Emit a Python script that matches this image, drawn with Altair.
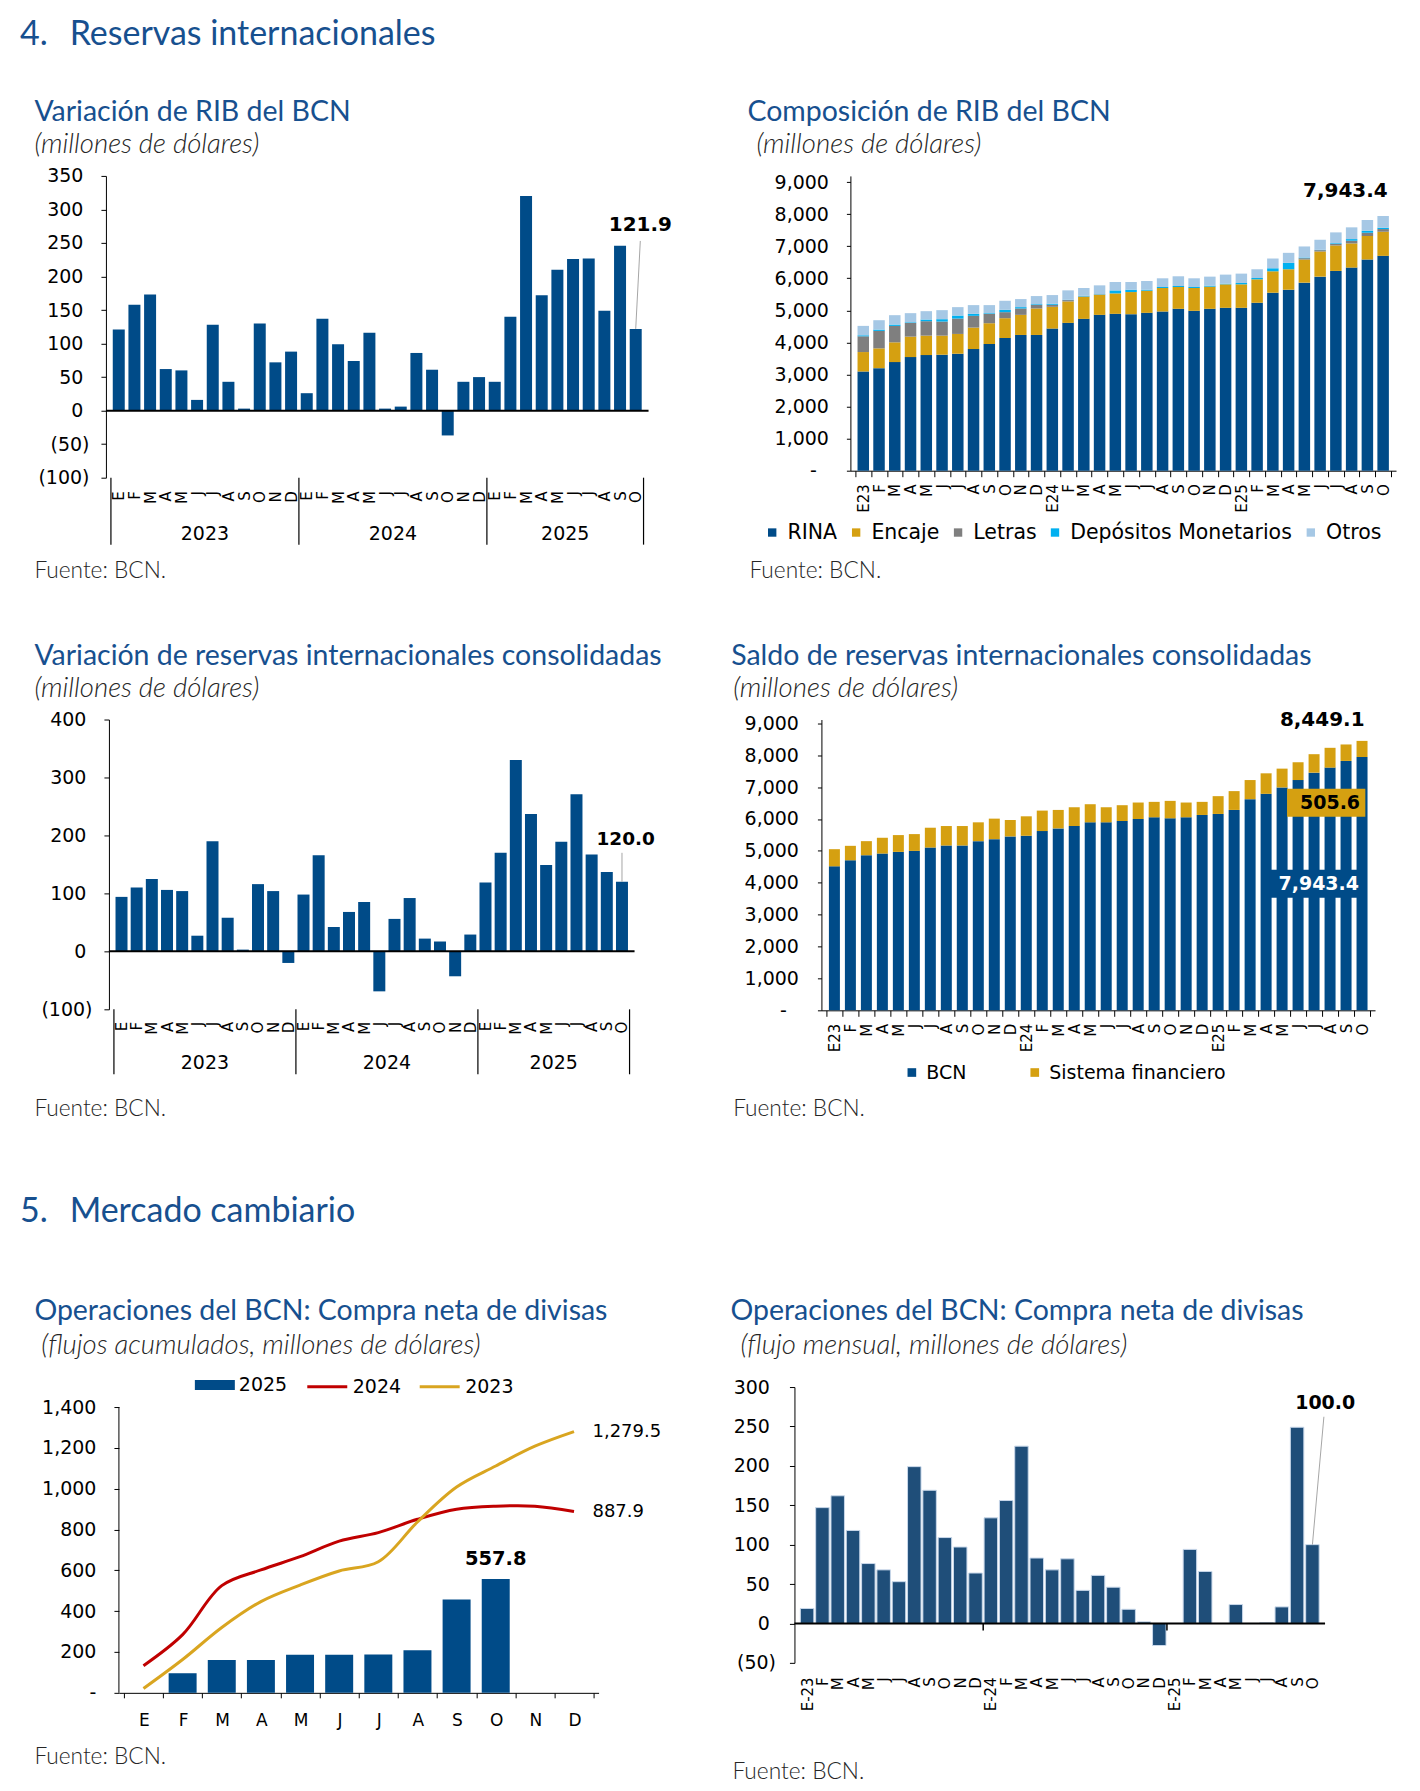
import json
import altair as alt
import pandas as pd

# ---------------- data ----------------
MES = ["E", "F", "M", "A", "M", "J", "J", "A", "S", "O", "N", "D"]
ANIOS = ["2023", "2024", "2025"]
MESES_POR_ANIO = [12, 12, 10]

etq_simple = MES + MES + MES[:10]
etq_rib = ["E23"] + MES[1:] + ["E24"] + MES[1:] + ["E25"] + MES[1:10]
etq_flujo = ["E-23"] + MES[1:] + ["E-24"] + MES[1:] + ["E-25"] + MES[1:10]

var_rib = [121, 158, 173, 62, 60, 16, 128, 43, 3, 130, 72, 88,
           26, 137, 99, 74, 116, 3, 6, 86, 61, -37, 43, 50,
           43, 140, 320, 172, 210, 226, 227, 149, 246, 121.9]

rina = [3094, 3198, 3387, 3543, 3606, 3617, 3648, 3794, 3951, 4139, 4233, 4233,
        4432, 4610, 4735, 4860, 4892, 4881, 4923, 4965, 5049, 4986, 5049, 5080,
        5080, 5237, 5550, 5644, 5864, 6052, 6230, 6334, 6585, 6700]
encaje = [606, 617, 616, 638, 606, 595, 617, 669, 648, 617, 627, 826,
          679, 669, 690, 628, 637, 690, 690, 732, 679, 711, 690, 732,
          732, 731, 669, 638, 721, 784, 794, 753, 732, 752]
letras = [491, 544, 512, 429, 450, 439, 480, 366, 293, 188, 199, 115,
          63, 41, 10, 10, 0, 0, 0, 0, 0, 0, 0, 0,
          0, 0, 0, 0, 42, 42, 52, 84, 105, 84]
depositos = [32, 41, 42, 20, 52, 74, 93, 63, 21, 73, 42, 21,
             31, 11, 21, 10, 93, 73, 31, 31, 31, 31, 31, 21,
             41, 42, 94, 199, 21, 10, 21, 52, 62, 42]
otros = [293, 293, 293, 283, 261, 282, 263, 272, 251, 282, 251, 251,
         272, 293, 241, 272, 263, 241, 272, 272, 304, 272, 282, 282,
         293, 272, 304, 313, 345, 314, 335, 366, 335, 365.4]

var_consol = [94, 110, 125, 106, 104, 27, 190, 58, 3, 116, 104, -20,
              98, 166, 42, 68, 85, -69, 56, 92, 22, 17, -43, 29,
              119, 170, 330, 237, 149, 189, 271, 167, 137, 120.0]

saldo_bcn = [4516, 4705, 4863, 4916, 4968, 5000, 5105, 5168, 5168, 5305, 5368, 5453,
             5474, 5621, 5705, 5779, 5895, 5895, 5937, 6000, 6053, 6021, 6053, 6126,
             6158, 6284, 6621, 6789, 6989, 7221, 7453, 7611, 7821, 7943.4]
saldo_sf = [537, 453, 442, 495, 527, 526, 621, 611, 611, 590, 643, 515,
            610, 642, 579, 589, 568, 473, 495, 516, 484, 547, 463, 411,
            558, 590, 600, 643, 590, 558, 579, 621, 516, 505.6]

acum_2025 = [0, 96, 161, 161, 187, 187, 188, 208, 457, 557.8]
acum_2024 = [133, 285, 525, 602, 667, 743, 785, 850, 899, 914, 914, 887.9]
acum_2023 = [21, 163, 320, 447, 528, 597, 642, 837, 1008, 1111, 1208, 1279.5]

flujo_mensual = [19, 147, 162, 118, 76, 68, 53, 199, 169, 109, 97, 64,
                 134, 156, 225, 83, 68, 82, 42, 61, 46, 18, 2, -28,
                 0, 94, 66, 0, 24, 0, 1, 21, 249, 100.0]

# ---------------- style ----------------
TF = "Lato"
AF = "DejaVu Sans"
AZUL_T = "#17508F"
AZUL = "#004B88"
ORO = "#D5A011"
GRIS = "#7F7F7F"
CIAN = "#00B0F0"
CELESTE = "#A6C8E5"
ROJO = "#C00000"
ORO_L = "#D9A520"
AZUL6 = "#1F4E79"
GUIA = "#A6A6A6"
SUBC = "#262626"

SZ_SEC = 34
SZ_TIT = 28.5
SZ_SUB = 27.6
SZ_FTE = 22.7

NBSP = "\u00a0"
FIG = "\u2007"
ZW = "\u200b"   # keeps trailing padding from being trimmed
PAD = NBSP + ZW
FMT_PAREN = ("datum.value < 0 ? '(' + format(-datum.value, ',') + ')' : format(datum.value, ',') + '"
             + PAD + "'")
FMT_DASH2 = "datum.value == 0 ? '-" + FIG + NBSP + ZW + "' : format(datum.value, ',') + '" + PAD + "'"
FMT_DASH5 = "datum.value == 0 ? '-" + PAD + "' : format(datum.value, ',') + '" + PAD + "'"


def js_list(lst):
    return json.dumps(lst, ensure_ascii=False)


def texto(s, x, y, size, color="black", font=TF, weight="normal", style="normal", align="left"):
    return alt.Chart(pd.DataFrame({"t": [s]})).mark_text(
        font=font, fontSize=size, color=color, fontWeight=weight, fontStyle=style,
        align=align, baseline="middle"
    ).encode(x=alt.value(x), y=alt.value(y), text="t:N")


def encabezado(title, sub, tx, ty, sx, sy, fx, fy):
    return [texto(title, tx, ty + 2, SZ_TIT, AZUL_T),
            texto(sub, sx, sy + 1, SZ_SUB, SUBC, style="italic", weight=300),
            texto("Fuente: BCN.", fx, fy, SZ_FTE, SUBC, weight=300)]


def eje_y(values, fmt, tick, pad, domain=True):
    return alt.Axis(values=values, tickCount=500, labelExpr=fmt, tickSize=tick, labelPadding=pad,
                    title=None, grid=False, domain=domain, labelOverlap=False, labelBound=False,
                    labelFlush=False)


def eje_x_centros(etqs, pad, size=15):
    return alt.Axis(values=list(range(len(etqs))), tickCount=500,
                    labelExpr=js_list(etqs) + "[round(datum.value)]",
                    labelAngle=270, ticks=False, domain=False, labelPadding=pad,
                    labelFontSize=size, labelOverlap=False, labelFlush=False,
                    labelBound=False, orient="bottom", title=None, grid=False)


def eje_x_bordes(etqs, step, pad, angle=270, size=15, tick=6):
    n = len(etqs)
    return alt.Axis(values=[i - 0.5 for i in range(n + 1)], tickCount=500,
                    labelExpr=js_list(etqs + [""]) + "[round(datum.value + 0.5)]",
                    labelAngle=angle, labelOffset=step / 2, ticks=True, tickSize=tick,
                    domain=True, labelPadding=pad, labelFontSize=size,
                    labelOverlap=False, labelFlush=False, labelBound=False,
                    orient="bottom", title=None, grid=False)


def cortes_anio():
    c = [-0.5]
    acc = 0
    for m in MESES_POR_ANIO:
        acc += m
        c.append(acc - 0.5)
    return c


def spacer(w=1, h=1):
    return alt.Chart(pd.DataFrame({"s": [0]})).mark_point(opacity=0).encode(
        x=alt.value(0), y=alt.value(0)).properties(width=w, height=h)


def indep(c):
    return c.resolve_scale(color="independent", fill="independent", stroke="independent").resolve_legend(
        color="independent", fill="independent", stroke="independent")


# ---------- variation panels (1 and 3) ----------
def panel_var(vals, W, H, ymin, ymax, ystep, bw, mpad, year_dy, sep_len, ann, heads, ann_size=20):
    n = len(vals)
    df = pd.DataFrame({"i": list(range(n)), "v": vals})
    xs = alt.Scale(domain=[-0.5, n - 0.5], nice=False, zero=False)
    ys = alt.Scale(domain=[ymin, ymax], nice=False, zero=False)
    X = alt.X("i:Q", scale=xs, axis=eje_x_centros(etq_simple, mpad), title=None)
    Y = alt.Y("v:Q", scale=ys, title=None,
              axis=eje_y(list(range(ymin, ymax + 1, ystep)), FMT_PAREN, 5, 12))
    barras = alt.Chart(df).mark_bar(size=bw, color=AZUL).encode(x=X, y=Y, y2=alt.datum(0))
    cero = alt.Chart(pd.DataFrame({"z": [0]})).mark_rule(color="black", strokeWidth=2).encode(
        y=alt.Y("z:Q", title=None))
    c = cortes_anio()
    seps = alt.Chart(pd.DataFrame({"x": c})).mark_rule(color="black", strokeWidth=1.2).encode(
        x=alt.X("x:Q", title=None), y=alt.value(H), y2=alt.value(H + sep_len))
    centros = [(c[k] + c[k + 1]) / 2 for k in range(len(ANIOS))]
    anios = alt.Chart(pd.DataFrame({"x": centros, "t": ANIOS})).mark_text(
        font=AF, fontSize=19, color="black", baseline="middle").encode(
        x=alt.X("x:Q", title=None), y=alt.value(H + year_dy), text="t:N")
    t, dx, dy, ldx, ldy = ann
    dfa = pd.DataFrame({"i": [n - 1], "v": [vals[-1]], "t": [t]})
    guia = alt.Chart(dfa).mark_rule(color=GUIA, strokeWidth=1, x2Offset=ldx, y2Offset=ldy).encode(
        x=alt.X("i:Q", title=None), x2="i", y=alt.Y("v:Q", title=None), y2="v")
    etiqueta = alt.Chart(dfa).mark_text(font=AF, fontSize=ann_size, fontWeight="bold",
                                        color="black", dx=dx, dy=dy, baseline="middle").encode(
        x=alt.X("i:Q", title=None), y=alt.Y("v:Q", title=None), text="t:N")
    return alt.layer(barras, cero, seps, anios, guia, etiqueta, *heads).properties(width=W, height=H)


# ---------- stacked panels (2 and 4) ----------
def panel_stack(names, colors, arrays, W, H, ymax_dom, bw, fmt, ypad, legend_kw,
                ann_text, ann_dx, ann_dy, heads, extra=()):
    n = len(arrays[0])
    rows = []
    for k, (nm, arr) in enumerate(zip(names, arrays)):
        for i, v in enumerate(arr):
            rows.append({"i": i, "s": nm, "k": k, "v": v})
    df = pd.DataFrame(rows)
    step = W / n
    xs = alt.Scale(domain=[-0.5, n - 0.5], nice=False, zero=False)
    ys = alt.Scale(domain=[0, ymax_dom], nice=False, zero=False)
    X = alt.X("i:Q", scale=xs, axis=eje_x_bordes(etq_rib, step, pad=7, size=15, tick=6), title=None)
    Y = alt.Y("v:Q", stack="zero", scale=ys, title=None,
              axis=eje_y(list(range(0, 9001, 1000)), fmt, 4, ypad))
    barras = alt.Chart(df).mark_bar(size=bw).encode(
        x=X, y=Y,
        color=alt.Color("s:N", scale=alt.Scale(domain=names, range=colors),
                        legend=alt.Legend(**legend_kw)),
        order=alt.Order("k:Q"))
    total = sum(a[-1] for a in arrays)
    dft = pd.DataFrame({"i": [n - 1], "v": [total], "t": [ann_text]})
    etiqueta = alt.Chart(dft).mark_text(font=AF, fontSize=20, fontWeight="bold", align="right",
                                        baseline="middle", dx=ann_dx, dy=ann_dy, color="black").encode(
        x=alt.X("i:Q", title=None), y=alt.Y("v:Q", title=None), text="t:N")
    return alt.layer(barras, etiqueta, *extra, *heads).properties(width=W, height=H)


# ---------- panel 1 ----------
p1 = panel_var(
    var_rib, 543, 302, -100, 350, 50, 12, mpad=13, year_dy=56, sep_len=67,
    ann=("121.9", 4.6, -104, 4.6, -88),
    heads=[texto("4.", -86, -140.6, SZ_SEC, AZUL_T),
           texto("Reservas internacionales", -36.3, -140.6, SZ_SEC, AZUL_T)]
    + encabezado("Variación de RIB del BCN", "(millones de dólares)",
                 -71.6, -65.9, -71.6, -31.6, -71.6, 395.5))

# ---------- panel 2 ----------
leg2 = dict(orient="none", legendX=-88.5, legendY=346.5, direction="horizontal", title=None,
            symbolType="square", symbolSize=70, symbolStrokeWidth=0, labelFontSize=20.5,
            labelOffset=5, columnPadding=8, padding=0, labelLimit=0)
p2 = panel_stack(
    ["RINA", "Encaje", "Letras", "Depósitos Monetarios", "Otros"],
    [AZUL, ORO, GRIS, CIAN, CELESTE],
    [rina, encaje, letras, depositos, otros],
    546, 295, 9193, 11.5, FMT_DASH2, 12, leg2, "7,943.4", 4.6, -24.5,
    heads=encabezado("Composición de RIB del BCN", "(millones de dólares)",
                     -103, -65.9, -94, -31.6, -101, 395.5))

# ---------- panel 3 ----------
p3 = panel_var(
    var_consol, 526, 290, -100, 400, 100, 12, mpad=12, year_dy=54, sep_len=65,
    ann=("120.0", 3.7, -43, 0, -29), ann_size=18.5,
    heads=encabezado("Variación de reservas internacionales consolidadas", "(millones de dólares)",
                     -74.6, -66, -74.6, -31.7, -74.6, 389.7))

# ---------- panel 4 ----------
dfb = pd.DataFrame({"i": [len(saldo_bcn) - 1], "bcn": [saldo_bcn[-1]], "mid": [saldo_bcn[-1] / 2],
                    "t1": ["505.6"], "t2": ["7,943.4"]})
caja_sf = alt.Chart(dfb).mark_rect(color=ORO, xOffset=-75, x2Offset=3.3, yOffset=31.8, y2Offset=59.7).encode(
    x=alt.X("i:Q", title=None), x2="i", y=alt.Y("bcn:Q", title=None), y2="bcn")
txt_sf = alt.Chart(dfb).mark_text(font=AF, fontSize=19, fontWeight="bold", color="black",
                                  dx=-32, dy=45.8, baseline="middle").encode(
    x=alt.X("i:Q", title=None), y=alt.Y("bcn:Q", title=None), text="t1:N")
caja_bcn = alt.Chart(dfb).mark_rect(color=AZUL, xOffset=-92.2, x2Offset=-3.3, yOffset=-14, y2Offset=14.2).encode(
    x=alt.X("i:Q", title=None), x2="i", y=alt.Y("mid:Q", title=None), y2="mid")
txt_bcn = alt.Chart(dfb).mark_text(font=AF, fontSize=19, fontWeight="bold", color="white",
                                   dx=-43.3, dy=0, baseline="middle").encode(
    x=alt.X("i:Q", title=None), y=alt.Y("mid:Q", title=None), text="t2:N")
leg4 = dict(orient="none", legendX=81, legendY=343.5, direction="horizontal", title=None,
            symbolType="square", symbolSize=75, symbolStrokeWidth=0, labelFontSize=19,
            labelOffset=5, columnPadding=58, padding=0, labelLimit=0)
p4 = panel_stack(
    ["BCN", "Sistema financiero"], [AZUL, ORO], [saldo_bcn, saldo_sf],
    554, 291, 9119, 11, FMT_DASH2, 13, leg4, "8,449.1", 2.5, -21,
    heads=encabezado("Saldo de reservas internacionales consolidadas", "(millones de dólares)",
                     -90.3, -66, -88.3, -31.7, -88.3, 389.7),
    extra=(caja_sf, txt_sf, caja_bcn, txt_bcn))

# ---------- panel 5 ----------
W5, H5 = 480, 306
df25 = pd.DataFrame({"i": list(range(len(acum_2025))), "v": acum_2025, "s": "2025"})
df24 = pd.DataFrame({"i": list(range(12)), "v": acum_2024, "s": "2024"})
df23 = pd.DataFrame({"i": list(range(12)), "v": acum_2023, "s": "2023"})
xs5 = alt.Scale(domain=[-0.5, 11.5], nice=False, zero=False)
ys5 = alt.Scale(domain=[0, 1497.9], nice=False, zero=False)
X5 = alt.X("i:Q", scale=xs5, title=None, axis=eje_x_bordes(MES, W5 / 12, pad=14.8, angle=0, size=17, tick=5))
Y5 = alt.Y("v:Q", scale=ys5, title=None,
           axis=eje_y(list(range(0, 1401, 200)), FMT_DASH5, 5, 12, domain=False))
bars5 = alt.Chart(df25).mark_bar(size=28).encode(
    x=X5, y=Y5, y2=alt.datum(0),
    fill=alt.Fill("s:N", scale=alt.Scale(domain=["2025"], range=[AZUL]),
                  legend=alt.Legend(orient="none", legendX=76, legendY=-22, title=None,
                                    symbolType="M-1,-0.25H1V0.25H-1Z", symbolSize=1600,
                                    symbolStrokeWidth=0, labelFontSize=19, labelOffset=4, padding=0)))
stroke_enc = alt.Stroke("s:N", scale=alt.Scale(domain=["2024", "2023"], range=[ROJO, ORO_L]),
                        legend=alt.Legend(orient="none", legendX=187, legendY=-22, title=None,
                                          direction="horizontal", symbolType="stroke",
                                          symbolSize=1600, symbolStrokeWidth=3, labelFontSize=19,
                                          labelOffset=4, columnPadding=11.5, padding=0))
line24 = alt.Chart(df24).mark_line(strokeWidth=3, interpolate="catmull-rom").encode(
    x=alt.X("i:Q", title=None), y=alt.Y("v:Q", title=None), stroke=stroke_enc)
line23 = alt.Chart(df23).mark_line(strokeWidth=3, interpolate="catmull-rom").encode(
    x=alt.X("i:Q", title=None), y=alt.Y("v:Q", title=None), stroke=stroke_enc)
eje5 = alt.Chart(pd.DataFrame({"a": [0], "b": [1400]})).mark_rule(color="black").encode(
    x=alt.value(0), y=alt.Y("a:Q", title=None), y2="b")
dfe = pd.DataFrame({"i": [11, 11], "v": [acum_2023[-1], acum_2024[-1]], "t": ["1,279.5", "887.9"]})
fin5 = alt.Chart(dfe).mark_text(font=AF, fontSize=18, color="black", align="left", dx=18.5,
                                baseline="middle").encode(
    x=alt.X("i:Q", title=None), y=alt.Y("v:Q", title=None), text="t:N")
dfo = pd.DataFrame({"i": [len(acum_2025) - 1], "v": [acum_2025[-1]], "t": ["557.8"]})
ult5 = alt.Chart(dfo).mark_text(font=AF, fontSize=19.5, fontWeight="bold", color="black", dy=-20,
                                baseline="middle").encode(
    x=alt.X("i:Q", title=None), y=alt.Y("v:Q", title=None), text="t:N")
heads5 = [texto("5.", -99, -175.6, SZ_SEC, AZUL_T),
          texto("Mercado cambiario", -49.3, -175.6, SZ_SEC, AZUL_T)] + encabezado(
    "Operaciones del BCN: Compra neta de divisas",
    "(flujos acumulados, millones de dólares)", -84.6, -77.9, -77.7, -42.2, -84.6, 370)
p5 = alt.layer(bars5, line24, line23, eje5, fin5, ult5, *heads5).properties(width=W5, height=H5)

# ---------- panel 6 ----------
W6, H6 = 531, 276
n6 = len(flujo_mensual)
df6 = pd.DataFrame({"i": list(range(n6)), "v": flujo_mensual})
xs6 = alt.Scale(domain=[-0.5, n6 - 0.5], nice=False, zero=False)
ys6 = alt.Scale(domain=[-50, 300], nice=False, zero=False)
X6 = alt.X("i:Q", scale=xs6, title=None, axis=eje_x_centros(etq_flujo, 14))
Y6 = alt.Y("v:Q", scale=ys6, title=None,
           axis=eje_y(list(range(-50, 301, 50)), FMT_PAREN, 5, 14))
bars6 = alt.Chart(df6).mark_bar(size=13.5, color=AZUL6, stroke="#C9D8EA", strokeWidth=1).encode(
    x=X6, y=Y6, y2=alt.datum(0))
cero6 = alt.Chart(pd.DataFrame({"z": [0]})).mark_rule(color="black", strokeWidth=2).encode(
    y=alt.Y("z:Q", title=None))
marcas6 = alt.Chart(pd.DataFrame({"x": cortes_anio()[1:-1]})).mark_rule(
    color="black", strokeWidth=1.5, y2Offset=7).encode(
    x=alt.X("x:Q", title=None), y=alt.datum(0), y2=alt.datum(0))
dfa6 = pd.DataFrame({"i": [n6 - 1], "v": [flujo_mensual[-1]], "t": ["100.0"]})
guia6 = alt.Chart(dfa6).mark_rule(color=GUIA, strokeWidth=1, x2Offset=11.5, y2Offset=-128).encode(
    x=alt.X("i:Q", title=None), x2="i", y=alt.Y("v:Q", title=None), y2="v")
et6 = alt.Chart(dfa6).mark_text(font=AF, fontSize=19, fontWeight="bold", color="black",
                                dx=12.8, dy=-142, baseline="middle").encode(
    x=alt.X("i:Q", title=None), y=alt.Y("v:Q", title=None), text="t:N")
heads6 = encabezado("Operaciones del BCN: Compra neta de divisas",
                    "(flujo mensual, millones de dólares)", -64, -77.9, -54, -42.2, -62, 385)
p6 = alt.layer(bars6, cero6, marcas6, guia6, et6, *heads6).properties(width=W6, height=H6)

# ---------- layout ----------
row1 = indep(alt.hconcat(p1, spacer(202), p2, spacing=0, bounds="flush"))
row2 = indep(alt.hconcat(spacer(3), p3, spacer(187), p4, spacing=0, bounds="flush"))
row3 = indep(alt.hconcat(spacer(13), p5, spacer(196), p6, spacing=0, bounds="flush"))

chart = indep(alt.vconcat(row1, spacer(1, 544), row2, spacer(1, 668), row3, spacing=0, bounds="flush")).properties(
    padding={"left": 12, "top": 9.4, "right": 4, "bottom": 4}
).configure_view(strokeWidth=0).configure_axis(
    labelFont=AF, labelFontSize=19, labelColor="black", domainColor="black", tickColor="black",
    domainWidth=1, tickWidth=1, grid=False, labelOverlap=False
).configure_legend(labelFont=AF, labelColor="black", padding=0)

chart.save("out.html", embed_options={"renderer": "svg", "actions": False})
